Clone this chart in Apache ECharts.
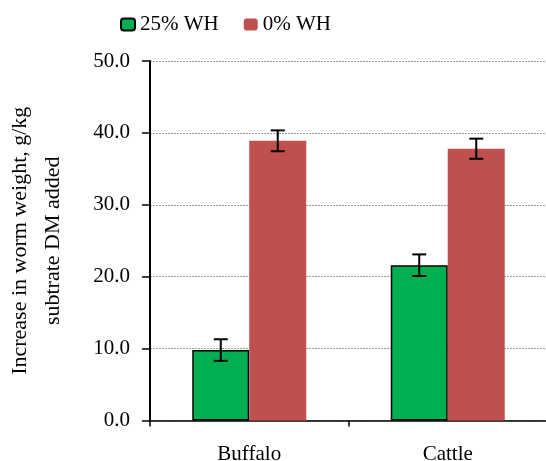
<!DOCTYPE html>
<html>
<head>
<meta charset="utf-8">
<script src="https://cdn.jsdelivr.net/npm/echarts@6/dist/echarts.min.js"></script>
<style>
html,body{margin:0;padding:0;background:#fff;}
#main{width:546px;height:461px;}
</style>
</head>
<body>
<div id="main"></div>
<script>
var categories = ['Buffalo', 'Cattle'];
var seriesNames = ['25% WH', '0% WH'];
var wh25 = [9.8, 21.6];
var wh25Err = [1.5, 1.5];
var wh0 = [38.9, 37.8];
var wh0Err = [1.45, 1.4];
var yTicks = [0, 10, 20, 30, 40, 50];

var FONT = 'Liberation Serif';
var BAR_W = 57;

function errData(vals, errs) {
  return vals.map(function (v, i) { return [i, v, errs[i]]; });
}

function errRender(offset) {
  return function (params, api) {
    var x = api.value(0), v = api.value(1), e = api.value(2);
    var hi = api.coord([x, v + e]);
    var lo = api.coord([x, v - e]);
    var cx = hi[0] + offset;
    var cap = 7;
    var st = { stroke: '#000', lineWidth: 2 };
    return {
      type: 'group',
      children: [
        { type: 'line', shape: { x1: cx, y1: hi[1], x2: cx, y2: lo[1] }, style: st },
        { type: 'line', shape: { x1: cx - cap, y1: hi[1], x2: cx + cap, y2: hi[1] }, style: st },
        { type: 'line', shape: { x1: cx - cap, y1: lo[1], x2: cx + cap, y2: lo[1] }, style: st }
      ]
    };
  };
}

var chart = echarts.init(document.getElementById('main'), null, { renderer: 'canvas' });
chart.setOption({
  animation: false,
  backgroundColor: '#fff',
  textStyle: { fontFamily: FONT },
  legend: {
    data: seriesNames,
    top: 14,
    left: 120,
    padding: 0,
    itemWidth: 14,
    itemHeight: 12,
    itemGap: 25,
    textStyle: { fontFamily: FONT, fontSize: 21, color: '#000' }
  },
  grid: { left: 150, right: -1, top: 61, bottom: 40.5, containLabel: false, outerBoundsMode: 'none' },
  xAxis: {
    type: 'category',
    data: categories,
    axisLine: { lineStyle: { color: '#000', width: 1.5 } },
    axisTick: { show: true, length: 6, inside: false, lineStyle: { color: '#000', width: 1.5 } },
    axisLabel: { fontFamily: FONT, fontSize: 21, color: '#000', margin: 23 }
  },
  yAxis: {
    type: 'value',
    min: 0,
    max: 50,
    interval: 10,
    name: 'Increase in worm weight, g/kg\nsubtrate DM added',
    nameLocation: 'middle',
    nameRotate: 90,
    nameGap: 80,
    nameTextStyle: { fontFamily: FONT, fontSize: 22, color: '#000', lineHeight: 33, align: 'center' },
    axisLine: { show: true, lineStyle: { color: '#000', width: 2 } },
    axisTick: { show: true, length: 8, lineStyle: { color: '#000', width: 1.5 } },
    axisLabel: {
      fontFamily: FONT, fontSize: 21, color: '#000', margin: 20,
      formatter: function (v) { return yTicks.indexOf(v) >= 0 ? v.toFixed(1) : ''; }
    },
    splitLine: { show: true, lineStyle: { color: '#999', type: [2, 1], width: 1 } }
  },
  series: [
    {
      name: seriesNames[0], type: 'bar', data: wh25, barWidth: BAR_W, barGap: '0%',
      itemStyle: { color: '#00B050', borderColor: '#000', borderWidth: 1.5 }
    },
    {
      name: seriesNames[1], type: 'bar', data: wh0, barWidth: BAR_W, barGap: '0%',
      itemStyle: { color: '#C0504D' }
    },
    {
      type: 'custom', name: 'err25', data: errData(wh25, wh25Err),
      encode: { x: 0, y: 1 }, renderItem: errRender(-BAR_W / 2), z: 5
    },
    {
      type: 'custom', name: 'err0', data: errData(wh0, wh0Err),
      encode: { x: 0, y: 1 }, renderItem: errRender(BAR_W / 2), z: 5
    }
  ]
});
</script>
</body>
</html>
